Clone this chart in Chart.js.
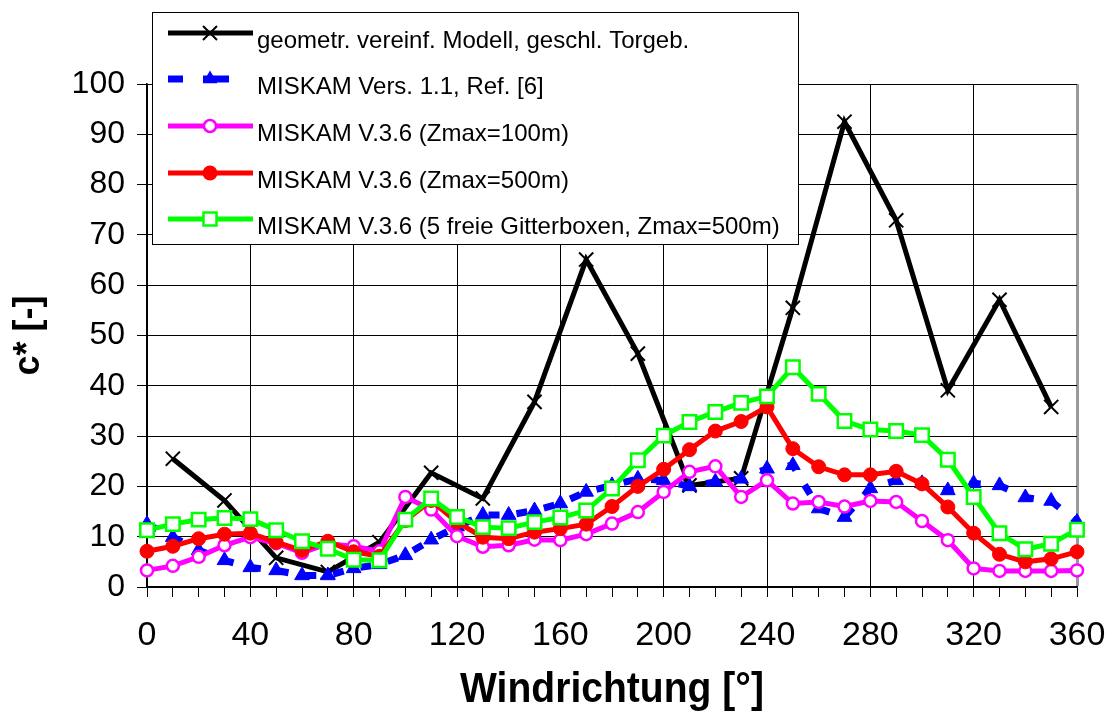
<!DOCTYPE html>
<html>
<head>
<meta charset="utf-8">
<title>c* Windrichtung</title>
<script src="https://cdn.jsdelivr.net/npm/chart.js@4.4.0/dist/chart.umd.min.js"></script>
<style>
  html, body { margin: 0; padding: 0; background: #fff; }
  #wrap { width: 1109px; height: 718px; }
</style>
</head>
<body>
<div id="wrap"><canvas id="cChart" width="1109" height="718"></canvas></div>
<script>
//#####################
// Data
//#####################
const directions = [0, 10, 20, 30, 40, 50, 60, 70, 80, 90, 100, 110, 120, 130, 140, 150, 160, 170, 180,
    190, 200, 210, 220, 230, 240, 250, 260, 270, 280, 290, 300, 310, 320, 330, 340, 350, 360];

// geometric model only has the odd directions
const geomDirections = [10, 30, 50, 70, 90, 110, 130, 150, 170, 190, 210, 230, 250, 270, 290, 310, 330, 350];
const geomValues = [25.5, 17.2, 5.8, 3.0, 8.9, 22.7, 17.6, 36.8, 65.1, 46.4, 20.2, 21.6, 55.5, 92.5, 72.9, 39.1, 57.1, 35.8];

const miskam11 = [12.5, 9.9, 7.3, 5.3, 3.9, 3.3, 2.3, 2.3, 3.7, 4.5, 6.3, 9.4, 12.0, 14.3, 14.3, 15.2, 16.6, 18.9, 20.2,
    21.5, 21.2, 20.0, 20.9, 21.5, 23.5, 24.2, 15.6, 13.9, 19.6, 21.2, 20.6, 19.2, 20.6, 20.2, 17.8, 17.1, 12.9];

const miskamZ100 = [3.3, 4.2, 6.0, 8.3, 9.9, 8.7, 6.8, 8.6, 8.1, 7.1, 17.9, 15.4, 10.1, 8.0, 8.3, 9.4, 9.3, 10.5, 12.6,
    14.9, 18.9, 22.9, 24.0, 17.9, 21.2, 16.6, 16.9, 16.0, 17.1, 16.9, 13.1, 9.3, 3.7, 3.2, 3.2, 3.2, 3.3];

const miskamZ500 = [7.1, 8.1, 9.6, 10.5, 10.7, 8.9, 7.3, 9.1, 7.0, 6.1, 13.2, 17.2, 12.9, 9.9, 9.6, 10.9, 11.6, 12.5, 16.0,
    20.0, 23.4, 27.3, 31.0, 32.9, 35.8, 27.5, 23.9, 22.3, 22.3, 23.0, 20.5, 15.9, 10.7, 6.5, 5.0, 5.6, 7.0];

const miskamBoxes = [11.3, 12.5, 13.4, 13.7, 13.5, 11.3, 9.1, 7.6, 5.4, 5.3, 13.4, 17.6, 13.9, 11.9, 11.7, 12.9, 13.8, 15.2, 19.6,
    25.2, 30.1, 32.8, 34.8, 36.6, 37.9, 43.7, 38.4, 33.0, 31.3, 31.0, 30.2, 25.3, 17.9, 10.7, 7.5, 8.6, 11.4];

const seriesLabels = [
    'geometr. vereinf. Modell, geschl. Torgeb.',
    'MISKAM Vers. 1.1, Ref. [6]',
    'MISKAM V.3.6 (Zmax=100m)',
    'MISKAM V.3.6 (Zmax=500m)',
    'MISKAM V.3.6 (5 freie Gitterboxen, Zmax=500m)'
];

const xTitle = 'Windrichtung [°]';

const toPoints = (xs, ys) => xs.map((x, i) => ({x: x, y: ys[i]}));

//#####################
// Legend box drawn inside the plot (top left)
//#####################
const drawMarker = (ctx, style, x, y) => {
    ctx.save();
    if (style === 'cross') {
        ctx.strokeStyle = '#000';
        ctx.lineWidth = 2;
        ctx.beginPath();
        ctx.moveTo(x - 7, y - 7); ctx.lineTo(x + 7, y + 7);
        ctx.moveTo(x + 7, y - 7); ctx.lineTo(x - 7, y + 7);
        ctx.stroke();
    } else if (style === 'triangle') {
        ctx.fillStyle = '#0000ff';
        ctx.beginPath();
        ctx.moveTo(x, y - 8.5);
        ctx.lineTo(x + 7.4, y + 4.3);
        ctx.lineTo(x - 7.4, y + 4.3);
        ctx.closePath();
        ctx.fill();
    } else if (style === 'openCircle') {
        ctx.fillStyle = '#fff';
        ctx.strokeStyle = '#ff00ff';
        ctx.lineWidth = 2.5;
        ctx.beginPath();
        ctx.arc(x, y, 6, 0, Math.PI * 2);
        ctx.fill(); ctx.stroke();
    } else if (style === 'dot') {
        ctx.fillStyle = '#ff0000';
        ctx.beginPath();
        ctx.arc(x, y, 7.5, 0, Math.PI * 2);
        ctx.fill();
    } else if (style === 'square') {
        ctx.fillStyle = '#fff';
        ctx.strokeStyle = '#00ff00';
        ctx.lineWidth = 2.5;
        ctx.fillRect(x - 6.5, y - 6.5, 13, 13);
        ctx.strokeRect(x - 6.5, y - 6.5, 13, 13);
    }
    ctx.restore();
};

const legendBox = {
    id: 'legendBox',
    afterDraw(chart) {
        const ctx = chart.ctx;
        const rows = [33, 79, 126, 173, 219];
        const colors = ['#000000', '#0000ff', '#ff00ff', '#ff0000', '#00ff00'];
        const markers = ['cross', 'triangle', 'openCircle', 'dot', 'square'];
        ctx.save();
        ctx.fillStyle = '#fff';
        ctx.fillRect(152, 12, 646, 232);
        ctx.strokeStyle = '#000';
        ctx.lineWidth = 1;
        ctx.strokeRect(152.5, 12.5, 646, 232);

        rows.forEach((y, i) => {
            ctx.strokeStyle = colors[i];
            if (i === 1) {
                // dashed sample: one short dash, gap, marker dash
                ctx.lineWidth = 7;
                ctx.beginPath();
                ctx.moveTo(168, y); ctx.lineTo(183, y);
                ctx.moveTo(203, y); ctx.lineTo(229, y);
                ctx.stroke();
            } else {
                ctx.lineWidth = 5;
                ctx.beginPath();
                ctx.moveTo(168, y); ctx.lineTo(253, y);
                ctx.stroke();
            }
            drawMarker(ctx, markers[i], 210, y);

            ctx.fillStyle = '#000';
            ctx.font = "24px 'Liberation Sans', Arial, sans-serif";
            ctx.textBaseline = 'alphabetic';
            ctx.fillText(seriesLabels[i], 257, y + 15);
        });
        ctx.restore();
    }
};

// x axis title, a bit condensed
const xAxisTitle = {
    id: 'xAxisTitle',
    afterDraw(chart) {
        const ctx = chart.ctx;
        const area = chart.chartArea;
        const cx = (area.left + area.right) / 2;
        ctx.save();
        ctx.translate(cx, 690);
        ctx.scale(0.93, 1);
        ctx.font = "bold 42px 'Liberation Sans', Arial, sans-serif";
        ctx.fillStyle = '#000';
        ctx.textAlign = 'center';
        ctx.textBaseline = 'middle';
        ctx.fillText(xTitle, 0, 0);
        ctx.restore();
    }
};

//#####################
// Chart
//#####################
Chart.defaults.font.family = "'Liberation Sans', Arial, sans-serif";
Chart.defaults.color = '#000';

const xGridColor = (v) => {
    if (v === 360) return '#9a9a9a';
    if (v % 40 === 0) return '#000';
    return 'rgba(0,0,0,0)';
};

const chartCanvas = document.getElementById('cChart');

const myChart = new Chart(chartCanvas, {
    type: 'line',
    data: {
        datasets: [
            {
                label: seriesLabels[0],
                data: toPoints(geomDirections, geomValues),
                borderColor: '#000',
                borderWidth: 5,
                pointStyle: 'crossRot',
                pointRadius: 10,
                pointBorderWidth: 2,
                pointBorderColor: '#000',
                pointBackgroundColor: '#000',
                clip: false,
                order: 5
            },
            {
                label: seriesLabels[1],
                data: toPoints(directions, miskam11),
                borderColor: '#0000ff',
                borderWidth: 7,
                borderDash: [11, 17],
                pointStyle: 'triangle',
                pointRadius: 8.5,
                pointBorderWidth: 1,
                pointBorderColor: '#0000ff',
                pointBackgroundColor: '#0000ff',
                clip: false,
                order: 4
            },
            {
                label: seriesLabels[2],
                data: toPoints(directions, miskamZ100),
                borderColor: '#ff00ff',
                borderWidth: 5,
                pointStyle: 'circle',
                pointRadius: 6,
                pointBorderWidth: 2.5,
                pointBorderColor: '#ff00ff',
                pointBackgroundColor: '#fff',
                clip: false,
                order: 3
            },
            {
                label: seriesLabels[3],
                data: toPoints(directions, miskamZ500),
                borderColor: '#ff0000',
                borderWidth: 5,
                pointStyle: 'circle',
                pointRadius: 7,
                pointBorderWidth: 1,
                pointBorderColor: '#ff0000',
                pointBackgroundColor: '#ff0000',
                clip: false,
                order: 2
            },
            {
                label: seriesLabels[4],
                data: toPoints(directions, miskamBoxes),
                borderColor: '#00ff00',
                borderWidth: 5,
                pointStyle: 'rect',
                pointRadius: 9.5,
                pointBorderWidth: 2.5,
                pointBorderColor: '#00ff00',
                pointBackgroundColor: '#fff',
                clip: false,
                order: 1
            }
        ]
    },
    options: {
        responsive: false,
        devicePixelRatio: 1,
        animation: false,
        events: [],
        layout: { padding: { top: 84, right: 32, left: 0, bottom: 0 } },
        plugins: {
            legend: { display: false },
            tooltip: { enabled: false }
        },
        scales: {
            x: {
                type: 'linear',
                min: 0,
                max: 360,
                ticks: {
                    stepSize: 10,
                    autoSkip: false,
                    maxTicksLimit: 50,
                    maxRotation: 0,
                    padding: 18,
                    color: '#000',
                    font: { size: 34 },
                    callback: (v) => (v % 40 === 0 ? v : '')
                },
                grid: {
                    color: (c) => xGridColor(c.tick.value),
                    lineWidth: (c) => (c.tick.value === 360 ? 3 : 1),
                    tickColor: '#000',
                    tickWidth: 1,
                    tickLength: 10
                },
                border: { color: '#000', width: 1.5 },
                afterFit: (s) => {
                    s.height = 131;
                    s.paddingLeft = 0;
                    s.paddingRight = 0;
                }
            },
            y: {
                min: 0,
                max: 100,
                ticks: {
                    stepSize: 10,
                    padding: 12,
                    color: '#000',
                    font: { size: 32 }
                },
                grid: { color: '#000', lineWidth: 1, tickLength: 10 },
                border: { color: '#000', width: 1.5 },
                title: {
                    display: true,
                    text: 'c* [-]',
                    color: '#000',
                    font: { size: 36, weight: 'bold' },
                    padding: { top: 7, bottom: 0 }
                },
                afterFit: (s) => {
                    s.width = 147;
                    s.paddingTop = 0;
                    s.paddingBottom = 0;
                }
            }
        }
    },
    plugins: [legendBox, xAxisTitle]
});
</script>
</body>
</html>
